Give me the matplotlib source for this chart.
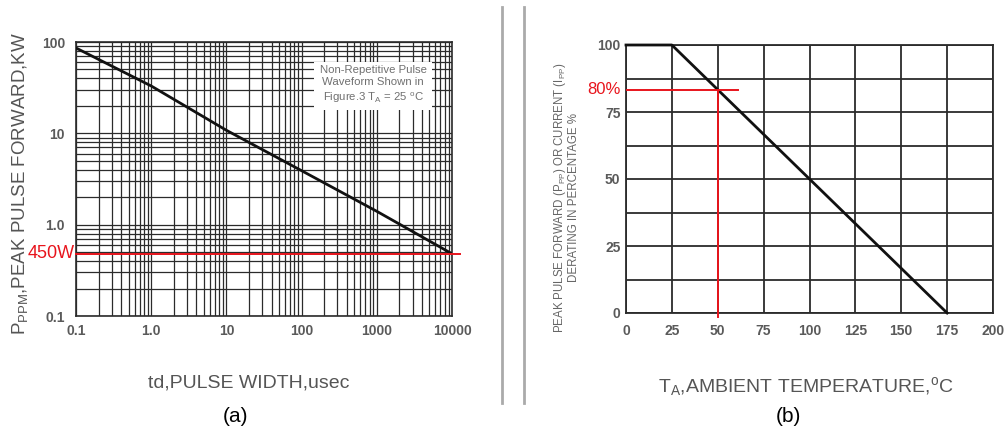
import matplotlib
matplotlib.use("Agg")
import matplotlib.pyplot as plt
import matplotlib.transforms as mtransforms
from matplotlib.ticker import LogLocator, NullFormatter, FixedLocator
from matplotlib.lines import Line2D

plt.rcParams['font.family'] = ['Liberation Sans', 'DejaVu Sans']
plt.rcParams['mathtext.fontset'] = 'custom'
plt.rcParams['mathtext.rm'] = 'Liberation Sans'
plt.rcParams['mathtext.it'] = 'Liberation Sans'
plt.rcParams['mathtext.bf'] = 'Liberation Sans:bold'

# (a) peak pulse power vs pulse width
pulse_width = [0.1, 1, 10, 100, 1000, 10000]
peak_power = [86, 33, 10.8, 3.9, 1.4, 0.48]
x_ticks_a = [0.1, 1, 10, 100, 1000, 10000]
x_labels_a = ['0.1', '1.0', '10', '100', '1000', '10000']
y_ticks_a = [0.1, 1, 10, 100]
y_labels_a = ['0.1', '1.0', '10', '100']
marker_power = 0.48   # 450W line

# (b) derating curve
temps = [0, 25, 175]
derate = [100, 100, 0]
x_ticks_b = [0, 25, 50, 75, 100, 125, 150, 175, 200]
y_ticks_b = [0, 25, 50, 75, 100]
marker_temp = 50
marker_pct = 83.3

GRID = '#2b2b2b'
TICK = '#5a5a5a'
RED = '#e8141c'

fig = plt.figure(figsize=(10.08, 4.41), dpi=100)

# ---------- panel (a) ----------
ax1 = fig.add_axes([76/1008, 1-316/441, 376/1008, 274/441])
ax1.set_xscale('log')
ax1.set_yscale('log')
ax1.set_xlim(0.1, 10000)
ax1.set_ylim(0.1, 100)
ax1.xaxis.set_major_locator(FixedLocator(x_ticks_a))
ax1.yaxis.set_major_locator(FixedLocator(y_ticks_a))
ax1.xaxis.set_minor_locator(LogLocator(base=10, subs=range(2, 10), numticks=20))
ax1.yaxis.set_minor_locator(LogLocator(base=10, subs=range(2, 10), numticks=20))
ax1.xaxis.set_minor_formatter(NullFormatter())
ax1.yaxis.set_minor_formatter(NullFormatter())
ax1.set_xticklabels(x_labels_a)
ax1.set_yticklabels(y_labels_a)
ax1.grid(True, which='both', color=GRID, linewidth=0.9)
ax1.tick_params(which='both', length=0)
ax1.tick_params(axis='x', pad=6, labelsize=10, labelcolor=TICK)
ax1.tick_params(axis='y', pad=8, labelsize=10, labelcolor=TICK)
for lab in ax1.get_xticklabels() + ax1.get_yticklabels():
    lab.set_fontweight('bold')
for s in ax1.spines.values():
    s.set_color(GRID)
    s.set_linewidth(1.2)

ax1.plot(pulse_width, peak_power, color='#111111', linewidth=2, zorder=5)

# note box
ax1.text(0.79, 0.843, 'Non-Repetitive Pulse\nWaveform Shown in\nFigure.3 T$_{\\mathrm{A}}$ = 25 $^{\\mathrm{o}}$C',
         transform=ax1.transAxes, ha='center', va='center', fontsize=8.2,
         color='#707070', linespacing=1.3, zorder=6,
         bbox=dict(boxstyle='square,pad=0.45', facecolor='white', edgecolor='none'))

trans1 = mtransforms.blended_transform_factory(ax1.transAxes, ax1.transData)
ax1.add_line(Line2D([0, 1.02], [marker_power, marker_power], transform=trans1,
                    color=RED, linewidth=1.4, clip_on=False, zorder=7))
ax1.text(-0.003, marker_power, '450W', transform=trans1, ha='right', va='center',
         color=RED, fontsize=13, zorder=7)

ax1.set_ylabel('P$_{\\mathrm{PPM}}$,PEAK PULSE FORWARD,KW', fontsize=13.5,
               color='#555555')
ax1.yaxis.set_label_coords(-0.122, 0.485)
ax1.set_xlabel('td,PULSE WIDTH,usec', fontsize=14, color='#555555')
ax1.xaxis.set_label_coords(0.46, -0.215)
fig.text(235/1008, 1-417/441, '(a)', ha='center', va='center', fontsize=15)

# ---------- separator ----------
for xs in (502, 524):
    fig.add_artist(Line2D([xs/1008, xs/1008], [1-403/441, 1-7/441],
                          transform=fig.transFigure, color='#aaaaaa', linewidth=2))

# ---------- panel (b) ----------
ax2 = fig.add_axes([626/1008, 1-313/441, 367/1008, 268/441])
ax2.set_xlim(0, 200)
ax2.set_ylim(0, 100)
ax2.set_xticks(x_ticks_b)
ax2.set_yticks(y_ticks_b)
ax2.yaxis.set_minor_locator(FixedLocator([12.5, 37.5, 62.5, 87.5]))
ax2.grid(True, which='both', color=GRID, linewidth=1.3)
ax2.tick_params(which='both', length=0)
ax2.tick_params(axis='x', pad=8, labelsize=10, labelcolor=TICK)
ax2.tick_params(axis='y', pad=4, labelsize=10, labelcolor=TICK)
for lab in ax2.get_xticklabels() + ax2.get_yticklabels():
    lab.set_fontweight('bold')
for s in ax2.spines.values():
    s.set_color(GRID)
    s.set_linewidth(1.3)

ax2.plot(temps, derate, color='#111111', linewidth=2, zorder=5, clip_on=False)

ax2.plot([0, 61], [marker_pct, marker_pct], color=RED, linewidth=1.4, zorder=6)
ax2.plot([marker_temp, marker_temp], [marker_pct, -1.5], color=RED, linewidth=1.4,
         zorder=6, clip_on=False)
ax2.text(-3, marker_pct, '80%', ha='right', va='center', color=RED, fontsize=12)

ax2.set_ylabel('PEAK PULSE FORWARD (P$_{\\mathrm{PP}}$) OR CURRENT (I$_{\\mathrm{PP}}$)\nDERATING IN PERCENTAGE %',
               fontsize=8.3, color='#666666', linespacing=1.0)
ax2.yaxis.set_label_coords(-0.125, 0.43)
ax2.set_xlabel('T$_{\\mathrm{A}}$,AMBIENT TEMPERATURE,$^{\\mathrm{o}}$C', fontsize=14,
               color='#555555')
ax2.xaxis.set_label_coords(0.49, -0.23)
fig.text(788/1008, 1-417/441, '(b)', ha='center', va='center', fontsize=15)

fig.savefig('out.png', dpi=100, facecolor='white')
